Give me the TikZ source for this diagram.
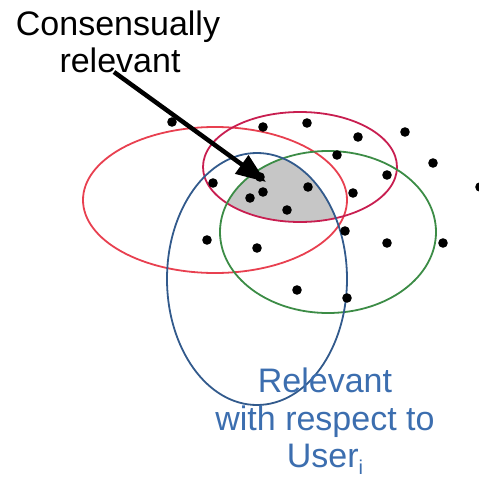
\documentclass[tikz,border=0pt]{standalone}
\usepackage{fontspec}
\setmainfont{Liberation Sans}
\usetikzlibrary{arrows.meta}
\definecolor{cred}{RGB}{232,64,80}
\definecolor{cmag}{RGB}{200,30,80}
\definecolor{cgreen}{RGB}{60,140,70}
\definecolor{cblue}{RGB}{50,90,140}
\definecolor{ctext}{RGB}{60,110,175}
\definecolor{cshade}{RGB}{198,198,198}
\tikzset{
  ell/.style={line width=1.8pt},
  dot/.style={fill=black},
  lbl/.style={font=\fontsize{34}{37}\selectfont, anchor=base, inner sep=0pt},
  bigarrow/.style={line width=4.5pt, -{Triangle[length=30pt,width=22pt]}}
}
\begin{document}
\begin{tikzpicture}[x=1pt,y=-1pt]
\useasboundingbox (0,0) rectangle (479,480);
% shaded intersection
\begin{scope}
  \clip (215,200) ellipse [x radius=132pt, y radius=73pt];
  \clip (300,167) ellipse [x radius=97pt, y radius=55pt];
  \clip (328,232) ellipse [x radius=108pt, y radius=81pt];
  \fill[cshade] (257,279) ellipse [x radius=90pt, y radius=126pt];
\end{scope}
% ellipses
\draw[ell, cred] (215,200) ellipse [x radius=132pt, y radius=73pt];
\draw[ell, cmag] (300,167) ellipse [x radius=97pt, y radius=55pt];
\draw[ell, cgreen] (328,232) ellipse [x radius=108pt, y radius=81pt];
\draw[ell, cblue] (257,279) ellipse [x radius=90pt, y radius=126pt];
% dots
\foreach \p in {(172,122),(263,127),(307,123),(358,137),(405,132),(337,155),
  (433,163),(387,175),(213,183),(260,177),(308,187),(353,193),(263,192),
  (250,198),(287,210),(345,231),(207,240),(257,248),(387,243),(443,243),
  (297,290),(347,298),(480,187)}
  \fill[dot] \p circle (4.8pt);
% labels
\node[lbl] (cons1) at (118,35) {Consensually};
\node[lbl] (cons2) at (120,72) {relevant};
\node[lbl, text=ctext] (rel1) at (325,392) {Relevant};
\node[lbl, text=ctext] (rel2) at (325,430) {with respect to};
\node[lbl, text=ctext] (rel3) at (325,467) {User\raisebox{-0.22em}{\fontsize{20}{20}\selectfont i}};
% arrow
\coordinate (astart) at (114,72);
\coordinate (atip) at (266,182);
\draw[bigarrow] (astart) -- (atip);
\end{tikzpicture}
\end{document}
